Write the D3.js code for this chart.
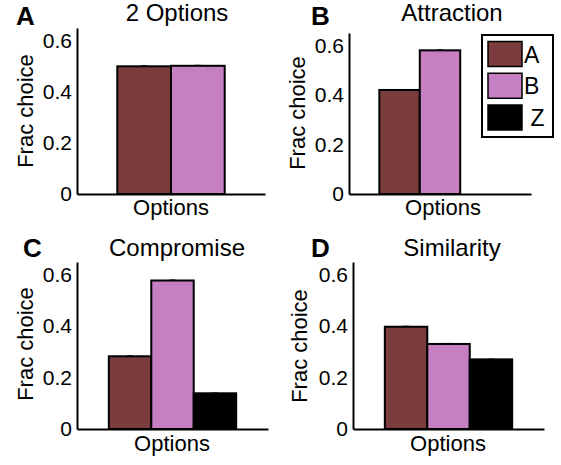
<!DOCTYPE html>
<html>
<head>
<meta charset="utf-8">
<script src="https://cdn.jsdelivr.net/npm/d3@7"></script>
<style>
  html, body { margin: 0; padding: 0; background: #fff; }
  svg { display: block; font-family: "Liberation Sans", Arial, Helvetica, sans-serif; }
</style>
</head>
<body>
<svg id="chart" width="561" height="465"></svg>
<script>
// ---------------- data ----------------
const panelLetters = ["A", "B", "C", "D"];
const panelTitles = ["2 Options", "Attraction", "Compromise", "Similarity"];
const optionNames = ["A", "B", "Z"];
const legendLabels = ["A", "B", " Z"];

const valuesA = [0.500, 0.502];
const valuesB = [0.420, 0.580, 0.000];
const valuesC = [0.283, 0.578, 0.139];
const valuesD = [0.398, 0.331, 0.271];

const errorsA = [0.002, 0.002];
const errorsB = [0.002, 0.002, 0.000];
const errorsC = [0.002, 0.002, 0.001];
const errorsD = [0.002, 0.002, 0.001];

const yTickValues = [0, 0.2, 0.4, 0.6];
const yTickLabels = ["0", "0.2", "0.4", "0.6"];
const yMax = 0.65;
const xLabelText = "Options";
const yLabelText = "Frac choice";

// ---------------- layout / style ----------------
const colors = { A: "#7a3c3c", B: "#c77fc4", Z: "#000000" };
const layout = [
  { x0: 77,  x1: 265, yTop: 28,  yBase: 194, titleX: 177, titleY: 21,  letterX: 16, letterY: 25,
    xlabX: 171, xlabY: 215, ylabX: 33,  ylabY: 111 },
  { x0: 349, x1: 531, yTop: 33,  yBase: 194, titleX: 452, titleY: 21,  letterX: 311, letterY: 25,
    xlabX: 443, xlabY: 215, ylabX: 305, ylabY: 113 },
  { x0: 77,  x1: 268, yTop: 262, yBase: 429, titleX: 177, titleY: 256, letterX: 23, letterY: 257,
    xlabX: 172, xlabY: 451, ylabX: 33,  ylabY: 344 },
  { x0: 353, x1: 544, yTop: 262, yBase: 429, titleX: 452, titleY: 256, letterX: 311, letterY: 257,
    xlabX: 448, xlabY: 451, ylabX: 307, ylabY: 346 }
];
const allValues = [valuesA, valuesB, valuesC, valuesD];
const allErrors = [errorsA, errorsB, errorsC, errorsD];

const svg = d3.select("#chart");

allValues.forEach((vals, p) => {
  const L = layout[p];
  const g = svg.append("g");
  const x = d3.scaleLinear().domain([0.5, 1.5]).range([L.x0, L.x1]);
  const y = d3.scaleLinear().domain([0, yMax]).range([L.yBase, L.yTop]);

  // MATLAB grouped-bar geometry
  const n = vals.length;
  const gw = Math.min(0.8, n / (n + 1.5));
  const bw = gw / n;
  const bars = vals.map((v, i) => ({ v, e: allErrors[p][i], name: optionNames[i], x: 1 - gw / 2 + i * bw }));

  g.selectAll("rect.bar").data(bars.filter(d => d.v > 0)).enter().append("rect")
    .attr("class", "bar")
    .attr("x", d => x(d.x))
    .attr("width", d => x(d.x + bw) - x(d.x))
    .attr("y", d => y(d.v))
    .attr("height", d => y(0) - y(d.v))
    .attr("fill", d => colors[d.name])
    .attr("stroke", "#000")
    .attr("stroke-width", 2);

  // error bars
  const eb = g.selectAll("g.eb").data(bars.filter(d => d.v > 0)).enter().append("g").attr("class", "eb");
  eb.append("line")
    .attr("x1", d => x(d.x + bw / 2)).attr("x2", d => x(d.x + bw / 2))
    .attr("y1", d => y(d.v - d.e)).attr("y2", d => y(d.v + d.e))
    .attr("stroke", "#000").attr("stroke-width", 1);
  eb.append("line")
    .attr("x1", d => x(d.x + bw / 2) - 3).attr("x2", d => x(d.x + bw / 2) + 3)
    .attr("y1", d => y(d.v + d.e)).attr("y2", d => y(d.v + d.e))
    .attr("stroke", "#000").attr("stroke-width", 1);

  // axes
  const yAxis = d3.axisLeft(y).tickValues(yTickValues).tickFormat((d, i) => yTickLabels[i])
    .tickSize(0).tickSizeOuter(0).tickPadding(5);
  const ya = g.append("g").attr("transform", `translate(${L.x0},0)`).call(yAxis);
  ya.select(".domain").attr("stroke", "#000").attr("stroke-width", 2);
  ya.selectAll("text").attr("font-size", 21).attr("fill", "#000")
    .attr("font-family", "'Liberation Sans', Arial, sans-serif");

  const xAxis = d3.axisBottom(x).tickValues([]).tickSizeOuter(0);
  const xa = g.append("g").attr("transform", `translate(0,${L.yBase})`).call(xAxis);
  xa.select(".domain").attr("stroke", "#000").attr("stroke-width", 2);

  // labels
  g.append("text").attr("x", L.xlabX).attr("y", L.xlabY).attr("text-anchor", "middle")
    .attr("font-size", 22).text(xLabelText);
  g.append("text").attr("transform", `translate(${L.ylabX},${L.ylabY}) rotate(-90)`)
    .attr("text-anchor", "middle").attr("font-size", 22).text(yLabelText);
  g.append("text").attr("x", L.titleX).attr("y", L.titleY).attr("text-anchor", "middle")
    .attr("font-size", 24).text(panelTitles[p]);
  g.append("text").attr("x", L.letterX).attr("y", L.letterY)
    .attr("font-size", 26).attr("font-weight", "bold").text(panelLetters[p]);
});

// legend (panel B)
const leg = svg.append("g");
leg.append("rect").attr("x", 482).attr("y", 35).attr("width", 71).attr("height", 102)
  .attr("fill", "#fff").attr("stroke", "#000").attr("stroke-width", 2);
const rowY = d3.scalePoint().domain(optionNames).range([54, 117.5]);
const rows = leg.selectAll("g.row").data(optionNames).enter().append("g").attr("class", "row");
rows.append("rect").attr("x", 488).attr("y", d => rowY(d) - 12.5).attr("width", 34).attr("height", 25)
  .attr("fill", d => colors[d]).attr("stroke", "#000").attr("stroke-width", 1.5);
rows.append("text").attr("x", 524).attr("y", d => rowY(d) + 8.5).attr("font-size", 23)
  .style("white-space", "pre").text((d, i) => legendLabels[i]);
</script>
</body>
</html>
